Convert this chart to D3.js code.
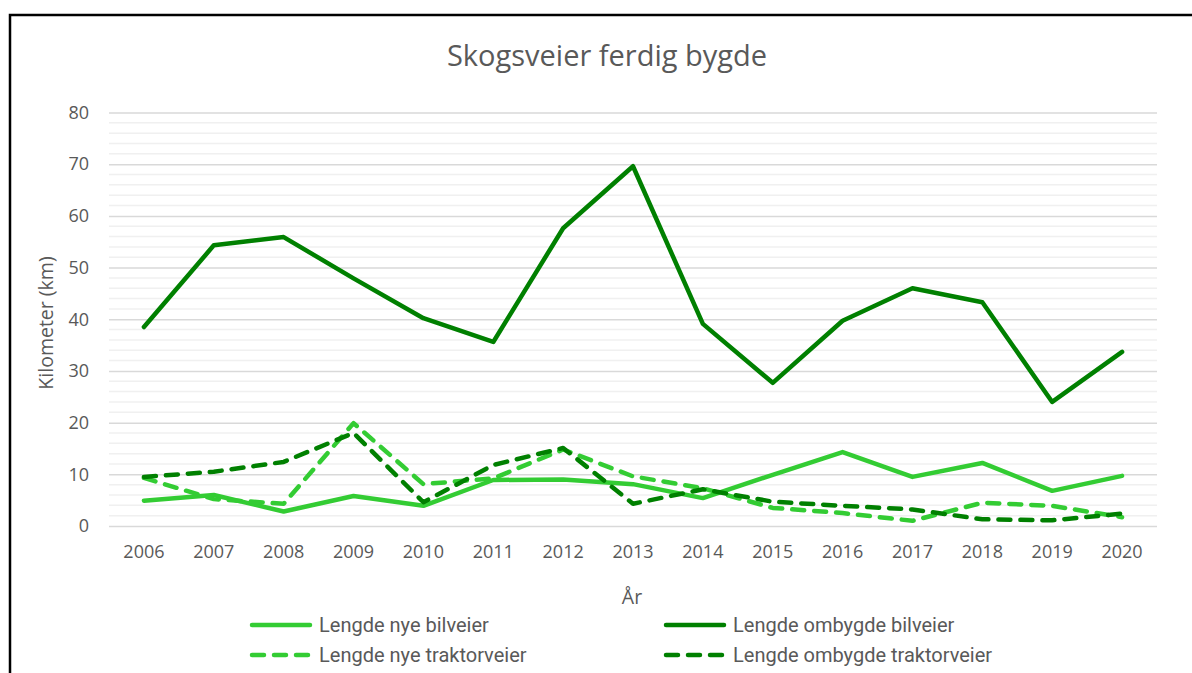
<!DOCTYPE html>
<html><head><meta charset="utf-8">
<script src="https://cdn.jsdelivr.net/npm/d3@7"></script>
<style>body{margin:0;background:#fff;} svg{display:block;}</style>
</head><body>
<svg id="c" width="1192" height="673"></svg>
<script>
const years = ["2006","2007","2008","2009","2010","2011","2012","2013","2014","2015","2016","2017","2018","2019","2020"];
const nyeBilveier = [4.9, 6.0, 2.8, 5.8, 3.9, 8.9, 9.0, 8.1, 5.4, 9.9, 14.3, 9.5, 12.2, 6.8, 9.7];
const ombygdeBilveier = [38.5, 54.3, 55.9, 47.9, 40.2, 35.6, 57.6, 69.6, 39.1, 27.7, 39.7, 46.0, 43.3, 24.0, 33.7];
const nyeTraktorveier = [9.3, 5.2, 4.3, 19.9, 8.1, 9.2, 14.8, 9.6, 7.3, 3.5, 2.5, 1.0, 4.5, 3.9, 1.7];
const ombygdeTraktorveier = [9.5, 10.5, 12.4, 18.0, 4.6, 11.8, 15.1, 4.3, 7.1, 4.7, 3.9, 3.2, 1.3, 1.1, 2.4];
const yTicks = [0,10,20,30,40,50,60,70,80];
const seriesNames = ["Lengde nye bilveier","Lengde ombygde bilveier","Lengde nye traktorveier","Lengde ombygde traktorveier"];
const title = "Skogsveier ferdig bygde";
const xTitle = "År";
const yTitle = "Kilometer (km)";

const light = "#33cc33", dark = "#008000", textCol = "#595959";
const series = [
  {name: seriesNames[0], values: nyeBilveier, color: light, dash: null},
  {name: seriesNames[1], values: ombygdeBilveier, color: dark, dash: null},
  {name: seriesNames[2], values: nyeTraktorveier, color: light, dash: "12,10"},
  {name: seriesNames[3], values: ombygdeTraktorveier, color: dark, dash: "12,10"}
];

const svg = d3.select("#c");
const font = "'Open Sans', sans-serif";
const L = 109, R = 1157, T = 112.5, B = 526;

svg.append("rect").attr("x",10).attr("y",15).attr("width",1300).attr("height",800)
  .attr("fill","none").attr("stroke","#000").attr("stroke-width",2.5);

const x = d3.scaleBand().domain(years).range([L,R]);
const y = d3.scaleLinear().domain([0,80]).range([B,T]);

// minor gridlines
const minor = d3.range(0,81,2).filter(v => v % 10 !== 0);
svg.append("g").selectAll("line").data(minor).join("line")
  .attr("x1",L).attr("x2",R).attr("y1",d=>y(d)).attr("y2",d=>y(d))
  .attr("stroke","#f0f0f0").attr("stroke-width",1.5);

// major gridlines via axis
const yAxis = svg.append("g").attr("transform",`translate(${L},0)`)
  .call(d3.axisLeft(y).tickValues(yTicks).tickSize(-(R-L)).tickPadding(20));
yAxis.select(".domain").remove();
yAxis.selectAll(".tick line").attr("stroke","#d9d9d9").attr("stroke-width",1.5);
yAxis.selectAll(".tick text").attr("fill",textCol).style("font-family",font).style("font-size","18px");

const xAxis = svg.append("g").attr("transform",`translate(0,${B})`)
  .call(d3.axisBottom(x).tickSize(0).tickPadding(19));
xAxis.select(".domain").remove();
xAxis.selectAll(".tick text").attr("fill",textCol).style("font-family",font).style("font-size","18px");

const line = d3.line().x((d,i)=>x(years[i])+x.bandwidth()/2).y(d=>y(d));
svg.append("g").selectAll("path").data(series).join("path")
  .attr("d",d=>line(d.values)).attr("fill","none")
  .attr("stroke",d=>d.color).attr("stroke-width",4.5)
  .attr("stroke-linejoin","round").attr("stroke-linecap","round")
  .attr("stroke-dasharray",d=>d.dash);

svg.append("text").attr("x",607).attr("y",66).attr("text-anchor","middle")
  .attr("fill",textCol).style("font-family",font).style("font-size","29px").text(title);
svg.append("text").attr("x",632).attr("y",604).attr("text-anchor","middle")
  .attr("fill",textCol).style("font-family",font).style("font-size","19.5px").text(xTitle);
svg.append("text").attr("transform","translate(53,323) rotate(-90)").attr("text-anchor","middle")
  .attr("fill",textCol).style("font-family",font).style("font-size","19.5px").text(yTitle);

// legend
const legPos = [[252,625],[666,625],[252,655],[666,655]];
const lg = svg.append("g").selectAll("g").data(series).join("g")
  .attr("transform",(d,i)=>`translate(${legPos[i][0]},${legPos[i][1]})`);
lg.append("line").attr("x1",0).attr("x2",58).attr("y1",0).attr("y2",0)
  .attr("stroke",d=>d.color).attr("stroke-width",4.5).attr("stroke-linecap","round")
  .attr("stroke-dasharray",d=>d.dash ? "12,10" : null);
lg.append("text").attr("x",67).attr("y",7).attr("fill",textCol)
  .style("font-family","'Liberation Sans Narrow', 'Roboto', sans-serif").style("font-size","20px")
  .text(d=>d.name);
</script>
</body></html>
